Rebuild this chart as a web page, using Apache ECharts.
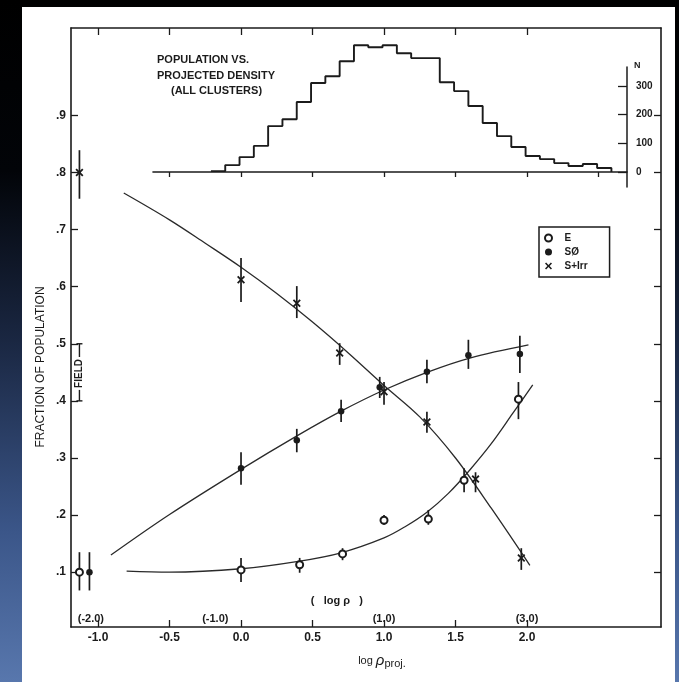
<!DOCTYPE html>
<html>
<head>
<meta charset="utf-8">
<script src="https://cdn.jsdelivr.net/npm/echarts@6/dist/echarts.min.js"></script>
<style>
  html, body { margin:0; padding:0; width:679px; height:682px; overflow:hidden;
    background: linear-gradient(to bottom, #000 0%, #020408 25%, #1a2742 50%, #3b5689 78%, #5877ad 100%); }
  #paper { position:absolute; left:22px; top:7px; width:653px; height:675px; background:#fff; }
  #chart { position:absolute; left:0; top:0; width:679px; height:682px; }
</style>
</head>
<body>
<div id="paper"></div>
<div id="chart"></div>
<script>
// ---- tick values ----
const xTicks = [-1.0, -0.5, 0.0, 0.5, 1.0, 1.5, 2.0];
const yTicks = [0.1, 0.2, 0.3, 0.4, 0.5, 0.6, 0.7, 0.8, 0.9];
const nTicks = [0, 100, 200, 300];
const histTicks = [-0.5, 0.0, 0.5, 1.0, 1.5, 2.0, 2.5];

// ---- E (ellipticals): first point = field ----
const eX  = [-1.13, 0.00, 0.41, 0.71, 1.00, 1.31, 1.56, 1.94];
const eY  = [0.100, 0.104, 0.113, 0.132, 0.191, 0.193, 0.261, 0.403];
const eLo = [0.068, 0.083, 0.099, 0.121, 0.183, 0.183, 0.240, 0.368];
const eHi = [0.135, 0.125, 0.125, 0.142, 0.200, 0.209, 0.282, 0.433];

// ---- S0: first point = field ----
const s0X  = [-1.06, 0.00, 0.39, 0.70, 0.97, 1.30, 1.59, 1.95];
const s0Y  = [0.100, 0.282, 0.331, 0.382, 0.424, 0.451, 0.480, 0.482];
const s0Lo = [0.068, 0.253, 0.310, 0.363, 0.405, 0.431, 0.456, 0.449];
const s0Hi = [0.135, 0.310, 0.351, 0.402, 0.442, 0.472, 0.507, 0.514];

// ---- S+Irr: first point = field ----
const spX  = [-1.13, 0.00, 0.39, 0.69, 1.00, 1.30, 1.64, 1.96];
const spY  = [0.800, 0.612, 0.571, 0.484, 0.416, 0.363, 0.263, 0.125];
const spLo = [0.754, 0.573, 0.545, 0.463, 0.393, 0.344, 0.240, 0.104];
const spHi = [0.839, 0.650, 0.601, 0.501, 0.433, 0.381, 0.275, 0.142];

// ---- fitted curves ----
const curveSpX = [-0.82, -0.5, -0.25, 0.0, 0.25, 0.5, 0.75, 1.0, 1.25, 1.5, 1.75, 2.02];
const curveSpY = [0.764, 0.717, 0.676, 0.634, 0.588, 0.538, 0.484, 0.427, 0.372, 0.300, 0.212, 0.112];
const curveS0X = [-0.91, -0.5, 0.0, 0.4, 0.7, 1.0, 1.3, 1.6, 2.01];
const curveS0Y = [0.130, 0.201, 0.280, 0.340, 0.382, 0.419, 0.450, 0.475, 0.498];
const curveEX  = [-0.8, -0.5, 0.0, 0.4, 0.7, 1.0, 1.15, 1.3, 1.45, 1.6, 1.75, 1.9, 2.04];
const curveEY  = [0.102, 0.100, 0.106, 0.119, 0.134, 0.160, 0.180, 0.205, 0.238, 0.279, 0.325, 0.378, 0.428];

// ---- field range marker ----
const fieldX = -1.13;
const fieldRange = [0.40, 0.50];

// ---- histogram: bin edges and counts ----
const histEdges = [-0.21, -0.11, -0.01, 0.09, 0.19, 0.29, 0.39, 0.49, 0.59, 0.69, 0.79, 0.89, 0.99, 1.09,
                   1.19, 1.29, 1.39, 1.49, 1.59, 1.69, 1.79, 1.89, 1.99, 2.09, 2.19, 2.29, 2.39, 2.49, 2.59];
const histN = [3, 24, 52, 91, 160, 184, 244, 310, 334, 386, 442, 435, 442, 414,
               397, 397, 313, 282, 230, 171, 125, 87, 56, 45, 31, 21, 28, 14];

// ---- log rho secondary labels ----
const logRhoPos  = [-1.05, -0.18, 1.0, 2.0];
const logRhoText = ['(-2.0)', '(-1.0)', '(1.0)', '(3.0)'];

const INK = '#1b1b1b';
const FONT = '"Liberation Sans", Arial, sans-serif';

const histData = histEdges.map((e, i) => [e, i < histN.length ? histN[i] : 0]);

function errSeries(name, xs, lo, hi) {
  return {
    type: 'custom', name: name, xAxisIndex: 0, yAxisIndex: 0, z: 3, silent: true,
    data: xs.map((x, i) => [x, lo[i], hi[i]]),
    encode: { x: 0, y: [1, 2] },
    renderItem: (params, api) => {
      const a = api.coord([api.value(0), api.value(1)]);
      const b = api.coord([api.value(0), api.value(2)]);
      return { type: 'line', shape: { x1: a[0], y1: a[1], x2: b[0], y2: b[1] },
               style: { stroke: INK, lineWidth: 1.7 } };
    }
  };
}
function curve(xs, ys) {
  return { type: 'line', xAxisIndex: 0, yAxisIndex: 0, smooth: 0.35, symbol: 'none', silent: true, z: 2,
           data: xs.map((x, i) => [x, ys[i]]), lineStyle: { color: '#2a2a2a', width: 1.3 } };
}
const XPATH = 'path://M0,1.6L1.6,0L5,3.4L8.4,0L10,1.6L6.6,5L10,8.4L8.4,10L5,6.6L1.6,10L0,8.4L3.4,5Z';

const chart = echarts.init(document.getElementById('chart'), null, { renderer: 'canvas' });
const option = {
  animation: false,
  backgroundColor: 'transparent',
  textStyle: { fontFamily: FONT },
  title: [
    { text: 'POPULATION VS.\nPROJECTED DENSITY', left: 152, top: 47,
      textStyle: { fontSize: 11, fontWeight: 'bold', lineHeight: 16, color: INK, fontFamily: FONT } },
    { text: '(ALL CLUSTERS)', left: 166, top: 78,
      textStyle: { fontSize: 11, fontWeight: 'bold', lineHeight: 16, color: INK, fontFamily: FONT } }
  ],
  legend: {
    data: ['E', 'SØ', 'S+Irr'], orient: 'vertical', left: 539, top: 227,
    borderColor: INK, borderWidth: 1.5, padding: [6, 22, 6, 5], itemGap: 4,
    itemWidth: 22, itemHeight: 7,
    textStyle: { fontSize: 10, fontWeight: 'bold', color: INK, fontFamily: FONT }
  },
  graphic: [
    { type: 'text', x: 41, y: 367, rotation: Math.PI / 2,
      style: { text: 'FRACTION OF POPULATION', fontSize: 12, fontFamily: FONT, fill: INK,
               align: 'center', verticalAlign: 'middle' } }
  ],
  grid: [
    { left: 71, right: 18, top: 28, bottom: 55 },
    { left: 153, right: 52, top: 67, bottom: 495 }
  ],
  xAxis: [
    { gridIndex: 0, type: 'value', min: -1.189, max: 2.937, position: 'bottom',
      axisLine: { onZero: false, lineStyle: { color: INK, width: 1.6 } },
      axisTick: { inside: true, length: 7, customValues: xTicks, lineStyle: { color: INK, width: 1.3 } },
      axisLabel: { customValues: xTicks, formatter: v => v.toFixed(1), margin: 5,
                   fontSize: 12, fontWeight: 'bold', color: INK, fontFamily: FONT },
      splitLine: { show: false },
      name: '{a|log }{b|ρ}{c|proj.}', nameLocation: 'middle', nameGap: 25,
      nameTextStyle: { padding: [0, 0, 0, 32], color: INK,
        rich: { a: { fontSize: 11, color: INK, fontFamily: FONT },
                b: { fontSize: 15, fontStyle: 'italic', color: INK, fontFamily: FONT },
                c: { fontSize: 11, color: INK, fontFamily: FONT, padding: [6, 0, 0, 0] } } } },
    { gridIndex: 0, type: 'value', min: -1.189, max: 2.937, position: 'top',
      axisLine: { onZero: false, lineStyle: { color: INK, width: 1.6 } },
      axisTick: { inside: true, length: 7, customValues: xTicks, lineStyle: { color: INK, width: 1.3 } },
      axisLabel: { show: false }, splitLine: { show: false } },
    { gridIndex: 1, type: 'value', min: -0.615, max: 2.699, position: 'bottom',
      axisLine: { onZero: true, lineStyle: { color: INK, width: 1.6 } },
      axisTick: { inside: false, length: 5, customValues: histTicks, lineStyle: { color: INK, width: 1.3 } },
      axisLabel: { show: false }, splitLine: { show: false } }
  ],
  yAxis: [
    { gridIndex: 0, type: 'value', min: 0.004, max: 1.053, position: 'left',
      axisLine: { onZero: false, lineStyle: { color: INK, width: 1.6 } },
      axisTick: { inside: true, length: 7, customValues: yTicks, lineStyle: { color: INK, width: 1.3 } },
      axisLabel: { customValues: yTicks, formatter: v => v.toFixed(1).replace(/^0/, ''), margin: 5,
                   fontSize: 12, fontWeight: 'bold', color: INK, fontFamily: FONT },
      splitLine: { show: false } },
    { gridIndex: 0, type: 'value', min: 0.004, max: 1.053, position: 'right',
      axisLine: { onZero: false, lineStyle: { color: INK, width: 1.6 } },
      axisTick: { inside: true, length: 7, customValues: yTicks, lineStyle: { color: INK, width: 1.3 } },
      axisLabel: { show: false }, splitLine: { show: false } },
    { gridIndex: 1, type: 'value', min: -52.3, max: 366, position: 'right',
      axisLine: { onZero: false, lineStyle: { color: INK, width: 1.5 } },
      axisTick: { inside: true, length: 9, customValues: nTicks, lineStyle: { color: INK, width: 1.3 } },
      axisLabel: { customValues: nTicks, margin: 9, fontSize: 10, fontWeight: 'bold', color: INK, fontFamily: FONT },
      splitLine: { show: false },
      name: 'N', nameLocation: 'end', nameGap: -3,
      nameTextStyle: { align: 'left', verticalAlign: 'bottom', padding: [0, 0, 0, 7],
                       fontSize: 9, fontWeight: 'bold', color: INK, fontFamily: FONT } }
  ],
  series: [
    { type: 'line', name: 'hist', xAxisIndex: 2, yAxisIndex: 2, step: 'end', symbol: 'none', silent: true,
      clip: false, data: histData, lineStyle: { color: INK, width: 1.9 } },
    curve(curveSpX, curveSpY),
    curve(curveS0X, curveS0Y),
    curve(curveEX, curveEY),
    errSeries('errE', eX, eLo, eHi),
    errSeries('errS0', s0X, s0Lo, s0Hi),
    errSeries('errSp', spX, spLo, spHi),
    { type: 'custom', name: 'fieldbar', xAxisIndex: 0, yAxisIndex: 0, z: 3, silent: true,
      data: [[fieldX, fieldRange[0], fieldRange[1]]], encode: { x: 0, y: [1, 2] },
      renderItem: (params, api) => {
        const a = api.coord([api.value(0), api.value(1)]);
        const b = api.coord([api.value(0), api.value(2)]);
        const st = { stroke: INK, lineWidth: 1.4 };
        return { type: 'group', children: [
          { type: 'line', shape: { x1: a[0], y1: a[1], x2: b[0], y2: b[1] }, style: st },
          { type: 'line', shape: { x1: a[0] - 3, y1: a[1], x2: a[0] + 3, y2: a[1] }, style: st },
          { type: 'line', shape: { x1: b[0] - 3, y1: b[1], x2: b[0] + 3, y2: b[1] }, style: st } ] };
      } },
    { type: 'scatter', name: 'fieldlabel', xAxisIndex: 0, yAxisIndex: 0, z: 5, silent: true, symbolSize: 0,
      itemStyle: { opacity: 1 },
      data: [{ value: [fieldX, (fieldRange[0] + fieldRange[1]) / 2 - 0.002], name: 'FIELD' }],
      label: { show: true, position: 'inside', rotate: 90, formatter: '{b}', backgroundColor: '#fff',
               padding: [1, 2], fontSize: 10, fontWeight: 'bold', color: INK, opacity: 1, fontFamily: FONT } },
    { type: 'scatter', name: 'E', xAxisIndex: 0, yAxisIndex: 0, z: 4, symbol: 'emptyCircle', symbolSize: 7,
      data: eX.map((x, i) => [x, eY[i]]), itemStyle: { color: INK, borderWidth: 1.4, opacity: 1 } },
    { type: 'scatter', name: 'SØ', xAxisIndex: 0, yAxisIndex: 0, z: 4, symbol: 'circle', symbolSize: 6.5,
      data: s0X.map((x, i) => [x, s0Y[i]]), itemStyle: { color: INK, opacity: 1 } },
    { type: 'scatter', name: 'S+Irr', xAxisIndex: 0, yAxisIndex: 0, z: 4, symbol: XPATH, symbolSize: 8,
      data: spX.map((x, i) => [x, spY[i]]), itemStyle: { color: INK, opacity: 1 } },
    { type: 'scatter', name: 'logrho', xAxisIndex: 0, yAxisIndex: 0, z: 5, silent: true, symbolSize: 0,
      itemStyle: { opacity: 1 },
      data: logRhoPos.map((x, i) => ({ value: [x, 0.018], name: logRhoText[i] }))
            .concat([{ value: [0.67, 0.0495], name: '(   log ρ   )' }]),
      label: { show: true, position: 'inside', formatter: '{b}', fontSize: 11, fontWeight: 'bold',
               color: INK, opacity: 1, fontFamily: FONT } }
  ]
};
chart.setOption(option);
</script>
</body>
</html>
